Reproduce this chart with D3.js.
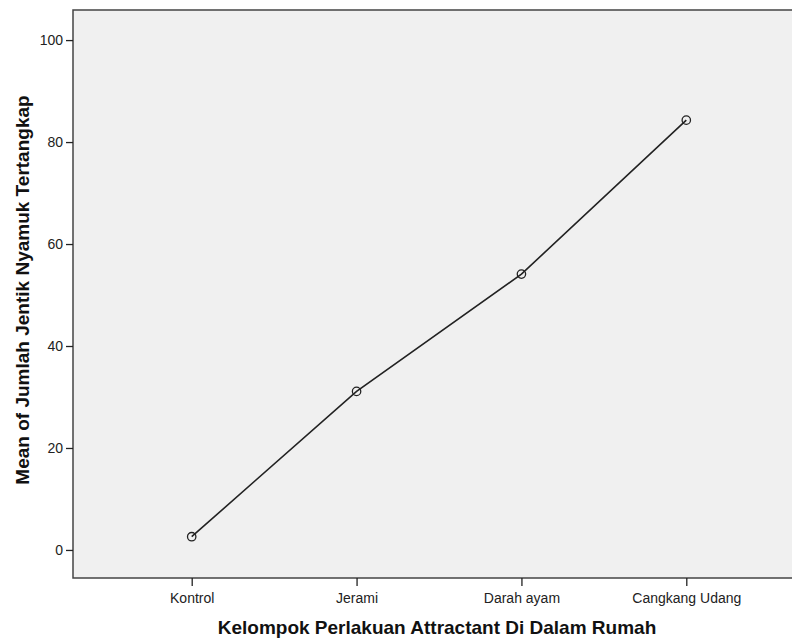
<!DOCTYPE html>
<html>
<head>
<meta charset="utf-8">
<script src="https://cdn.jsdelivr.net/npm/d3@7"></script>
<style>
  body { margin: 0; background: #fff; }
  text { font-family: "Liberation Sans", Arial, sans-serif; }
</style>
</head>
<body>
<div class="chart"></div>
<script>
// data
const groups = ["Kontrol", "Jerami", "Darah ayam", "Cangkang Udang"];
const means = [2.6, 31.1, 54.1, 84.3];
const yTicks = [0, 20, 40, 60, 80, 100];

const width = 792, height = 640;
const plot = { left: 73, right: 805, top: 10, bottom: 578 };

const svg = d3.select('.chart').append('svg')
    .attr('width', width)
    .attr('height', height);

const x = d3.scalePoint()
    .domain(groups)
    .range([plot.left, plot.right])
    .padding(0.72);

const y = d3.scaleLinear()
    .domain([-5.5, 105.9])
    .range([plot.bottom, plot.top]);

// plot background
svg.append('rect')
    .attr('x', plot.left)
    .attr('y', plot.top)
    .attr('width', plot.right - plot.left)
    .attr('height', plot.bottom - plot.top)
    .attr('fill', '#f0f0f0')
    .attr('stroke', '#444')
    .attr('stroke-width', 1.5);

// y axis
const yAxis = svg.append('g')
    .attr('transform', `translate(${plot.left},0)`)
    .call(d3.axisLeft(y).tickValues(yTicks).tickSize(7).tickPadding(3));
yAxis.select('.domain').remove();
yAxis.selectAll('line').attr('stroke', '#222').attr('stroke-width', 1.3);
yAxis.selectAll('text').attr('font-size', 14).attr('fill', '#222')
    .style('font-family', '"Liberation Sans", Arial, sans-serif');

// x axis
const xAxis = svg.append('g')
    .attr('transform', `translate(0,${plot.bottom})`)
    .call(d3.axisBottom(x).tickSize(8).tickPadding(7));
xAxis.select('.domain').remove();
xAxis.selectAll('line').attr('stroke', '#222').attr('stroke-width', 1.3);
xAxis.selectAll('text').attr('font-size', 14).attr('fill', '#222')
    .style('font-family', '"Liberation Sans", Arial, sans-serif');

// line
const line = d3.line()
    .x((d, i) => x(groups[i]))
    .y(d => y(d));

svg.append('path')
    .datum(means)
    .attr('d', line)
    .attr('fill', 'none')
    .attr('stroke', '#222')
    .attr('stroke-width', 1.6);

svg.selectAll('.pt')
    .data(means)
    .join('circle')
    .attr('class', 'pt')
    .attr('cx', (d, i) => x(groups[i]))
    .attr('cy', d => y(d))
    .attr('r', 4.2)
    .attr('fill', 'none')
    .attr('stroke', '#222')
    .attr('stroke-width', 1.3);

// axis titles
svg.append('text')
    .attr('x', 437)
    .attr('y', 634)
    .attr('text-anchor', 'middle')
    .attr('font-size', 19)
    .attr('font-weight', 'bold')
    .attr('fill', '#111')
    .text('Kelompok Perlakuan Attractant Di Dalam Rumah');

svg.append('text')
    .attr('transform', 'translate(29,290) rotate(-90)')
    .attr('text-anchor', 'middle')
    .attr('font-size', 19)
    .attr('font-weight', 'bold')
    .attr('fill', '#111')
    .text('Mean of Jumlah Jentik Nyamuk Tertangkap');
</script>
</body>
</html>
